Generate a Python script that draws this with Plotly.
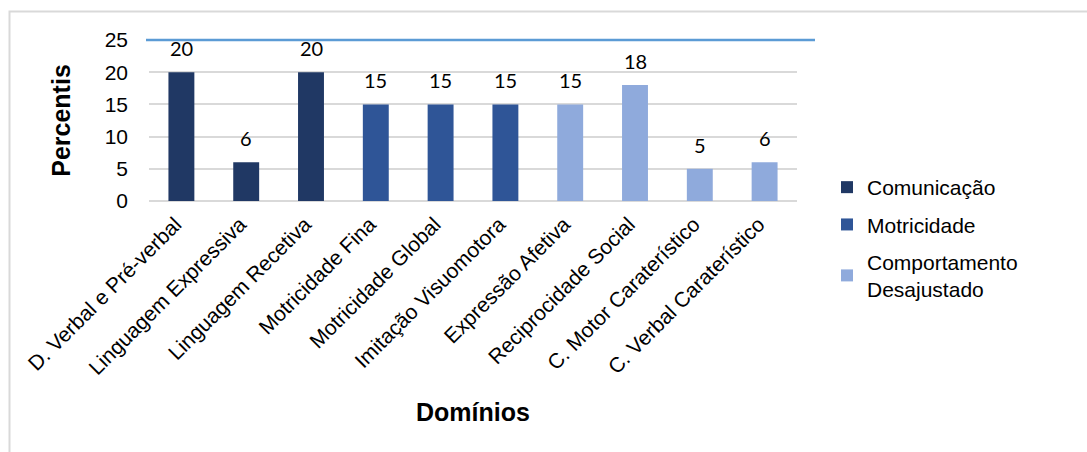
import plotly.graph_objects as go

# Domínios avaliados e percentis obtidos
categories = [
    "D. Verbal e Pré-verbal",
    "Linguagem Expressiva",
    "Linguagem Recetiva",
    "Motricidade Fina",
    "Motricidade Global",
    "Imitação Visuomotora",
    "Expressão Afetiva",
    "Reciprocidade Social",
    "C. Motor Caraterístico",
    "C. Verbal Caraterístico",
]
values = [20, 6, 20, 15, 15, 15, 15, 18, 5, 6]
domain_group = [
    "Comunicação", "Comunicação", "Comunicação",
    "Motricidade", "Motricidade", "Motricidade",
    "Comportamento Desajustado", "Comportamento Desajustado",
    "Comportamento Desajustado", "Comportamento Desajustado",
]
group_names = ["Comunicação", "Motricidade", "Comportamento Desajustado"]
group_labels = ["Comunicação", "Motricidade", "Comportamento<br>Desajustado"]
group_colors = ["#203864", "#2F5597", "#8FAADC"]
reference_level = 25

# plot-area geometry in pixels
W, H = 1087, 452
L, R, T, B = 149, 797, 40, 201

fig = go.Figure()
for name, label, color in zip(group_names, group_labels, group_colors):
    xs = [c for c, g in zip(categories, domain_group) if g == name]
    ys = [v for v, g in zip(values, domain_group) if g == name]
    fig.add_trace(go.Bar(
        x=xs, y=ys, name=label, width=0.4,
        marker=dict(color=color, line=dict(width=0)),
        legendgroup=name,
    ))

# value labels above each bar
for c, v in zip(categories, values):
    fig.add_annotation(
        x=c, y=v, text=str(v), showarrow=False, yshift=24,
        xanchor="center", yanchor="middle",
        font=dict(family="Lato", size=20, color="#000000"),
    )

def px_x(p):
    return (p - L) / (R - L)

def px_y(p):
    return (B - p) / (B - T)

# reference line at the top of the scale (y range ends at reference_level)
fig.add_shape(
    type="line", xref="paper", yref="paper",
    x0=px_x(146), x1=px_x(815), y0=1, y1=1,
    line=dict(color="#5B9BD5", width=2.5), layer="above",
)

# outer chart frame
fig.add_shape(
    type="rect", xref="paper", yref="paper",
    x0=px_x(9.5), x1=px_x(W + 20), y0=px_y(H + 20), y1=px_y(11.5),
    line=dict(color="#D9D9D9", width=2), fillcolor="rgba(0,0,0,0)",
    layer="below",
)

fig.update_layout(
    width=W, height=H,
    margin=dict(l=L, r=W - R, t=T, b=H - B, autoexpand=False),
    paper_bgcolor="white", plot_bgcolor="white",
    barmode="overlay",
    font=dict(family="Liberation Sans, Arial", color="#000000"),
    showlegend=True,
    legend=dict(
        x=px_x(827), y=px_y(167), xanchor="left", yanchor="top",
        font=dict(size=21, family="Liberation Sans, Arial", color="#000000"),
        tracegroupgap=7, bgcolor="rgba(0,0,0,0)",
        traceorder="grouped",
    ),
    xaxis=dict(
        categoryorder="array", categoryarray=categories,
        tickangle=-45, tickfont=dict(size=21),
        ticklabelstandoff=6, ticklabelshift=-6,
        showgrid=False, showline=False, ticks="",
        title=dict(text="<b>Domínios</b>", font=dict(size=25), standoff=25),
        automargin=False,
    ),
    yaxis=dict(
        range=[0, reference_level], dtick=5,
        tickfont=dict(size=21),
        showgrid=True, gridcolor="#D9D9D9", gridwidth=1.5,
        zeroline=True, zerolinecolor="#D9D9D9", zerolinewidth=1.5,
        showline=False, ticks="", ticklabelstandoff=20,
        title=dict(text="<b>Percentis</b>", font=dict(size=25), standoff=26),
        automargin=False,
    ),
)

fig.write_html("out.html")
